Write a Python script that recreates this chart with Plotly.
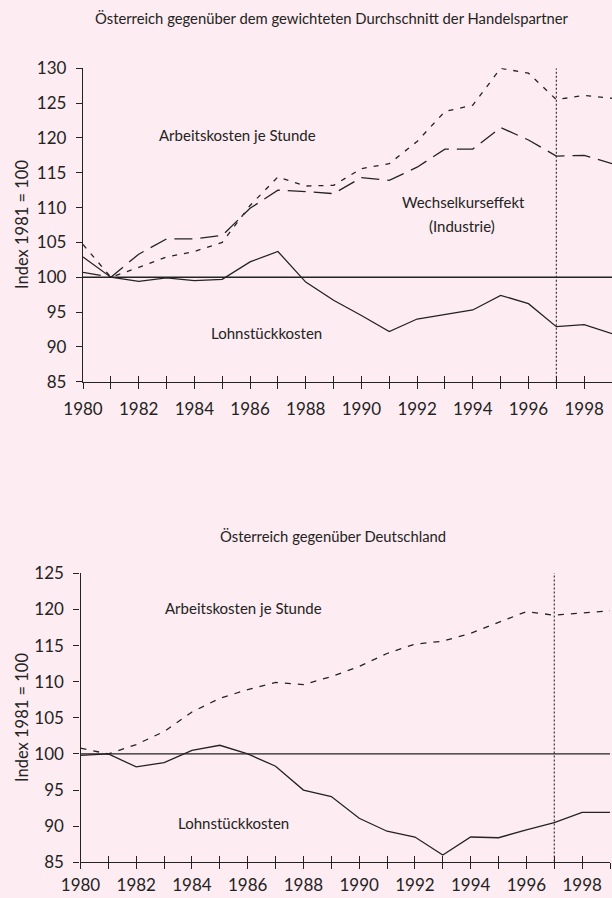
import plotly.graph_objects as go

years = list(range(1980, 2000))

# Top chart: Österreich gegenüber dem gewichteten Durchschnitt der Handelspartner
top_arbeitskosten = [104.7, 100.0, 101.4, 102.9, 103.7, 105.0, 110.3, 114.4, 113.1, 113.2,
                     115.6, 116.3, 119.5, 123.8, 124.7, 130.0, 129.3, 125.5, 126.1, 125.7]
top_wechselkurs = [100.7, 100.0, 103.3, 105.5, 105.5, 106.0, 109.9, 112.5, 112.3, 112.0,
                   114.3, 113.9, 115.8, 118.4, 118.4, 121.5, 119.7, 117.4, 117.5, 116.3]
top_lohnstueck = [102.9, 100.0, 99.4, 99.9, 99.5, 99.7, 102.2, 103.7, 99.3, 96.7,
                  94.5, 92.2, 94.0, 94.6, 95.3, 97.4, 96.2, 92.9, 93.2, 91.9]

# Bottom chart: Österreich gegenüber Deutschland
bot_arbeitskosten = [100.8, 100.0, 101.3, 103.1, 105.8, 107.7, 108.9, 109.9, 109.6, 110.7,
                     112.1, 113.9, 115.2, 115.6, 116.7, 118.2, 119.7, 119.2, 119.5, 119.8]
bot_lohnstueck = [99.8, 100.0, 98.2, 98.8, 100.5, 101.2, 100.0, 98.3, 95.0, 94.1,
                  91.1, 89.3, 88.5, 86.0, 88.5, 88.4, 89.5, 90.5, 91.9, 91.9]

top_yticks = [85, 90, 95, 100, 105, 110, 115, 120, 125, 130]
bot_yticks = [85, 90, 95, 100, 105, 110, 115, 120, 125]
xtick_text = [str(y) if y % 2 == 0 else "" for y in years]

INK = "#232323"
BG = "#fdecf1"
FONT = "Lato"

fig = go.Figure()

def line(x, y, xa, ya, dash, width=1.3, opacity=1.0):
    fig.add_trace(go.Scatter(x=x, y=y, xaxis=xa, yaxis=ya, mode="lines",
                             line=dict(color=INK, width=width, dash=dash),
                             opacity=opacity, showlegend=False, hoverinfo="skip"))

line(years, top_arbeitskosten, "x", "y", "5px,7px")
line(years, top_wechselkurs, "x", "y", "18px,8px")
line(years, top_lohnstueck, "x", "y", "solid")
line(years, bot_arbeitskosten, "x2", "y2", "6px,7px")
line(years, bot_lohnstueck, "x2", "y2", "solid")
# invisible carriers so the overlay axes (inner tick halves) get drawn
line(years, top_lohnstueck, "x3", "y", "solid", width=0.1, opacity=0)
line(years, bot_lohnstueck, "x4", "y2", "solid", width=0.1, opacity=0)

def xaxis_style(standoff):
    return dict(range=[1980, 1999], showline=True, linecolor=INK, linewidth=1.3,
                showgrid=False, zeroline=False, tickmode="array", tickvals=years,
                ticktext=xtick_text, ticks="outside", ticklen=6, tickwidth=1.2,
                tickcolor=INK, tickfont=dict(family=FONT, size=17, color=INK),
                ticklabelstandoff=standoff, fixedrange=True, automargin=False)

ycommon = dict(showline=True, linecolor=INK, linewidth=1.3, showgrid=False,
               zeroline=False, ticks="outside", ticklen=6, tickwidth=1.2,
               tickcolor=INK, tickfont=dict(family=FONT, size=17, color=INK),
               ticklabelstandoff=6, fixedrange=True, automargin=False)
xover = dict(range=[1980, 1999], showline=False, showgrid=False, zeroline=False,
             tickmode="array", tickvals=years, ticks="inside", ticklen=6,
             tickwidth=1.2, tickcolor=INK, showticklabels=False, fixedrange=True,
             automargin=False)

fig.update_layout(
    width=612, height=898,
    margin=dict(l=0, r=0, t=0, b=0, autoexpand=False),
    paper_bgcolor=BG, plot_bgcolor=BG,
    font=dict(family=FONT, color=INK),
    xaxis=dict(domain=[83 / 612, 612 / 612], anchor="y", **xaxis_style(6)),
    yaxis=dict(domain=[1 - 381.7 / 898, 1 - 68.3 / 898], anchor="x", range=[85, 130],
               tickvals=top_yticks, **ycommon),
    xaxis2=dict(domain=[80.5 / 612, 610 / 612], anchor="y2", **xaxis_style(1)),
    yaxis2=dict(domain=[1 - 862.3 / 898, 1 - 573.3 / 898], anchor="x2", range=[85, 125],
                tickvals=bot_yticks, **ycommon),
    xaxis3=dict(overlaying="x", anchor="y", matches="x", **xover),
    xaxis4=dict(overlaying="x2", anchor="y2", matches="x2", **xover),
)

# reference lines
fig.add_shape(type="line", xref="x domain", yref="y", x0=0, x1=1, y0=100, y1=100,
              line=dict(color=INK, width=1.3))
fig.add_shape(type="line", xref="x2 domain", yref="y2", x0=0, x1=1, y0=100, y1=100,
              line=dict(color=INK, width=1.3))
fig.add_shape(type="line", xref="x", yref="y", x0=1997, x1=1997, y0=85, y1=130,
              line=dict(color=INK, width=1.1, dash="2px,2px"))
fig.add_shape(type="line", xref="x2", yref="y2", x0=1997, x1=1997, y0=84, y1=125.5,
              line=dict(color=INK, width=1.1, dash="2px,2px"))

def note(text, x, y, xref, yref, size=14.5, angle=0):
    fig.add_annotation(text=text, x=x, y=y, xref=xref, yref=yref, showarrow=False,
                       xanchor="center", yanchor="middle", textangle=angle,
                       font=dict(family=FONT, size=size, color=INK))

# titles
note("Österreich gegenüber dem gewichteten Durchschnitt der Handelspartner",
     332 / 612, 1 - 18 / 898, "paper", "paper", size=14.8)
note("Österreich gegenüber Deutschland", 333 / 612, 1 - 536 / 898, "paper", "paper", size=14.8)

# y-axis titles
note("Index 1981 = 100", 22 / 612, 1 - 225 / 898, "paper", "paper", size=16.5, angle=-90)
note("Index 1981 = 100", 22 / 612, 1 - 718 / 898, "paper", "paper", size=16.5, angle=-90)

# series labels
note("Arbeitskosten je Stunde", 1985.55, 120.4, "x", "y", size=15)
note("Wechselkurseffekt", 1993.65, 110.8, "x", "y", size=15)
note("(Industrie)", 1993.6, 107.3, "x", "y", size=15)
note("Lohnstückkosten", 1986.6, 92.0, "x", "y", size=15)
note("Arbeitskosten je Stunde", 1985.86, 120.2, "x2", "y2", size=15)
note("Lohnstückkosten", 1985.5, 90.4, "x2", "y2", size=15)

fig.write_html(
    "out.html",
    config={"displayModeBar": False},
    post_script="document.body.style.margin='0';document.body.style.overflow='hidden';",
)
